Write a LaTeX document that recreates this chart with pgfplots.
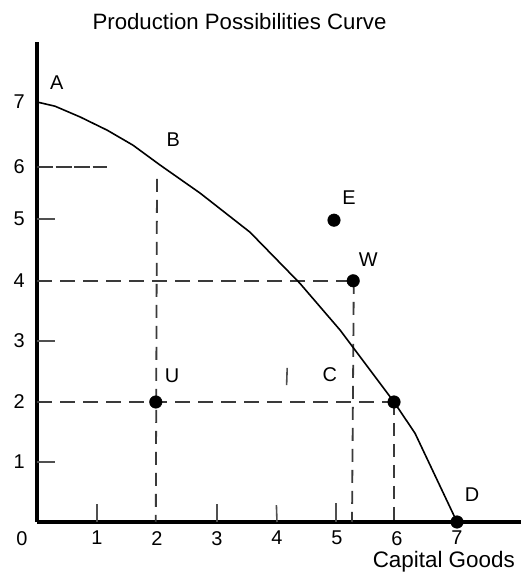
\documentclass[border=0pt]{standalone}
\usepackage{pgfplots}
\pgfplotsset{compat=1.18}
\usepackage{fontspec}
\setmainfont{Liberation Sans}
\definecolor{dashgray}{HTML}{3A3A3A}
\definecolor{tickgray}{HTML}{505050}
\begin{document}
\begin{tikzpicture}
\path[use as bounding box] (-37bp,-52bp) rectangle (484bp,522bp);
\begin{axis}[
  at={(0,0)}, anchor=south west,
  x=60bp, y=60bp,
  xmin=0, xmax=8.07, ymin=0, ymax=8.0,
  axis lines=left,
  axis line style={-, line width=3.4bp, black},
  clip=false,
  major tick length=0pt,
  xtick={1,2,3,4,5,6,7},
  xticklabels={1,2,3,4,5,6,7},
  ytick={1,2,3.02,4.02,5.05,5.92,7},
  yticklabels={1,2,3,4,5,6,7},
  tick label style={font=\fontsize{20}{22}\selectfont, inner sep=0pt},
  xticklabel style={anchor=north, yshift=-9bp},
  yticklabel style={anchor=east, xshift=-12bp},
]
% dashed guide lines
\addplot[dashgray, line width=1.8bp, dash pattern=on 15bp off 8bp] coordinates {(0,2) (5.95,2)};
\addplot[dashgray, line width=1.8bp, dash pattern=on 15bp off 8bp] coordinates {(0,4.02) (5.27,4.02)};
\addplot[dashgray, line width=1.8bp, dash pattern=on 13bp off 8bp] coordinates {(2.0,5.72) (1.98,0)};
\addplot[dashgray, line width=1.8bp, dash pattern=on 13bp off 8bp] coordinates {(5.28,4.02) (5.25,0)};
\addplot[dashgray, line width=1.8bp, dash pattern=on 13bp off 8bp] coordinates {(5.95,2) (5.95,0)};
\addplot[dashgray, line width=1.8bp, dash pattern=on 16bp off 2.5bp] coordinates {(0,5.92) (1.17,5.92)};
% short tick marks
\addplot[tickgray, line width=1.6bp] coordinates {(0,1.0) (0.3,1.0)};
\addplot[tickgray, line width=1.6bp] coordinates {(0,3.02) (0.3,3.02)};
\addplot[tickgray, line width=1.6bp] coordinates {(0,5.05) (0.3,5.05)};
\addplot[tickgray, line width=1.6bp] coordinates {(1,0) (1,0.3)};
\addplot[tickgray, line width=1.6bp] coordinates {(3,0) (3,0.3)};
\addplot[tickgray, line width=1.6bp] coordinates {(4,0) (3.99,0.28)};
\addplot[tickgray, line width=1.6bp] coordinates {(4.98,0) (4.98,0.32)};
\addplot[tickgray, line width=1.6bp] coordinates {(4.16,2.28) (4.17,2.57)};
% production possibilities curve
\addplot[black, line width=1.6bp] coordinates {
  (0,7.0) (0.3,6.93) (0.72,6.75) (1.17,6.53) (1.6,6.28) (2.05,5.95)
  (2.72,5.48) (3.55,4.83) (4.38,3.98) (5.05,3.2) (5.95,2.0) (6.3,1.48) (7,0)
};
% points
\addplot[only marks, mark=*, mark size=6.3bp, black] coordinates {
  (1.98,2) (4.95,5.03) (5.27,4.02) (5.95,2) (7,0)
};
% labels
\begin{scope}[every node/.style={font=\fontsize{20}{22}\selectfont, inner sep=0pt}]
\node at (axis cs:0.33,7.32) {A};
\node at (axis cs:2.27,6.37) {B};
\node at (axis cs:5.2,5.4) {E};
\node at (axis cs:5.52,4.37) {W};
\node at (axis cs:2.25,2.43) {U};
\node at (axis cs:4.88,2.45) {C};
\node at (axis cs:7.25,0.45) {D};
\node[anchor=north, yshift=-9bp] at (axis cs:-0.25,0) {0};
\end{scope}
\node[anchor=base, inner sep=0pt, font=\fontsize{22.3}{24}\selectfont] at (axis cs:3.375,8.2) {Production Possibilities Curve};
\node[anchor=base, inner sep=0pt, font=\fontsize{22.5}{25}\selectfont] at (axis cs:6.78,-0.75) {Capital Goods};
\end{axis}
\end{tikzpicture}
\end{document}
